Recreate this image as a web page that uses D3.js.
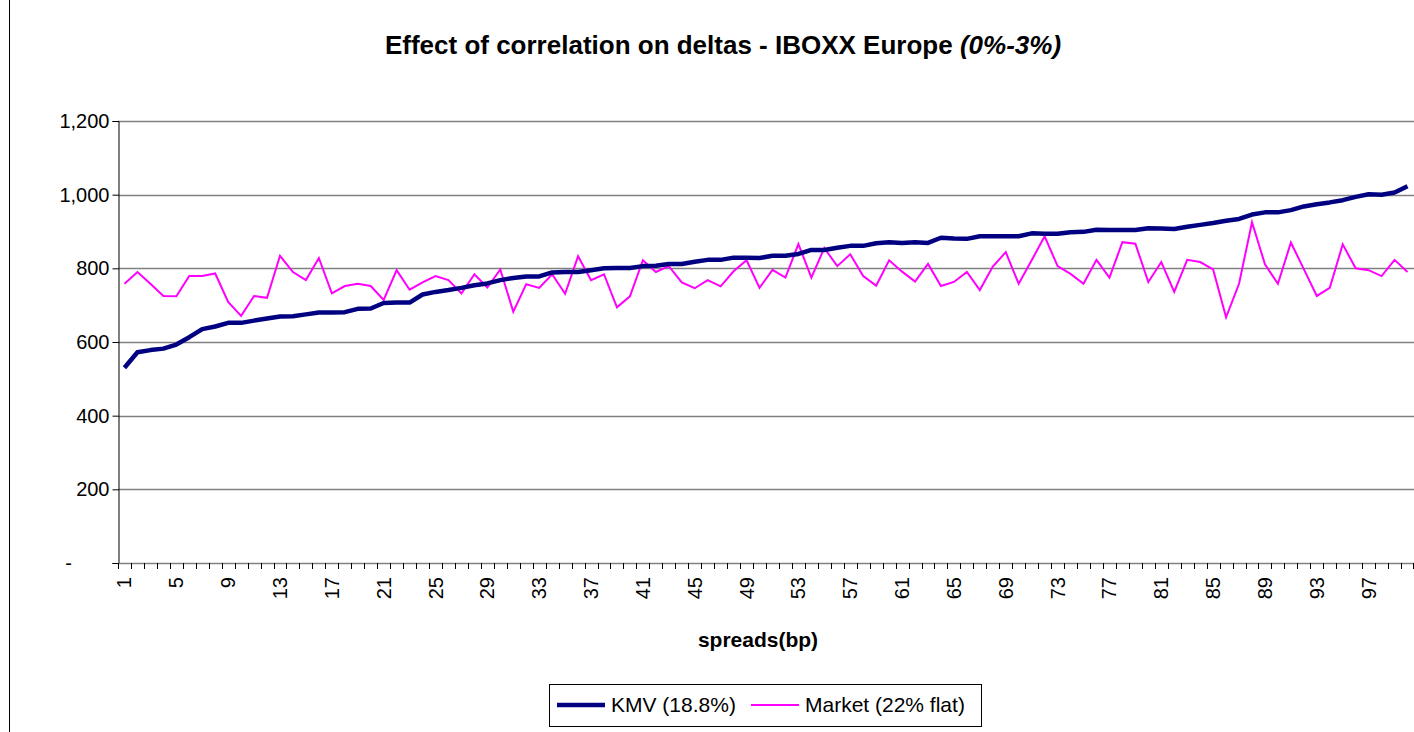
<!DOCTYPE html>
<html>
<head>
<meta charset="utf-8">
<script src="https://cdn.jsdelivr.net/npm/d3@7/dist/d3.min.js"></script>
<style>
  body { margin: 0; background: #fff; }
  svg { display: block; font-family: "Liberation Sans", Arial, sans-serif; }
</style>
</head>
<body>
<svg id="chart" width="1414" height="732"></svg>
<script>
// categories: spreads(bp) bucket index 1..100
const categories = d3.range(1, 101);

// KMV (18.8%) deltas
const kmv = [
  530, 572, 578, 582, 593, 613, 635, 642, 652, 652,
  658, 664, 669, 670, 675, 680, 680, 681, 690, 691,
  706, 707, 707, 729, 736, 741, 747, 754, 759, 768,
  774, 778, 778, 789, 790, 790, 795, 800, 801, 801,
  806, 807, 812, 812, 818, 823, 823, 829, 829, 828,
  834, 834, 839, 850, 850, 856, 861, 861, 868, 871,
  869, 871, 869, 883, 881, 880, 887, 887, 887, 887,
  895, 894, 894, 898, 899, 905, 904, 904, 904, 909,
  908, 907, 913, 918, 923, 929, 934, 946, 952, 952,
  958, 968, 974, 979, 985, 994, 1001, 1000, 1006, 1023
];

// Market (22% flat) deltas
const market = [
  758, 790, 758, 725, 724, 779, 779, 786, 709, 671,
  725, 720, 834, 790, 768, 828, 732, 752, 758, 752,
  714, 795, 742, 762, 779, 768, 732, 784, 748, 797,
  682, 757, 747, 784, 731, 833, 768, 784, 694, 724,
  822, 790, 806, 762, 746, 768, 751, 792, 822, 747,
  796, 775, 866, 775, 855, 806, 838, 779, 753, 822,
  791, 764, 812, 752, 763, 790, 741, 805, 844, 758,
  822, 887, 806, 785, 758, 823, 775, 871, 867, 763,
  817, 736, 823, 817, 797, 667, 758, 925, 811, 758,
  870, 798, 725, 747, 865, 800, 795, 779, 823, 790
];

const yTicks = [0, 200, 400, 600, 800, 1000, 1200];
const xLabels = categories.filter(d => (d - 1) % 4 === 0);

const svg = d3.select('#chart');
const plotLeft = 118, plotRight = 1414, plotTop = 121, plotBottom = 563;

const x = d3.scaleBand().domain(categories).range([plotLeft, plotRight]).padding(0);
const y = d3.scaleLinear().domain([0, 1200]).range([plotBottom, plotTop]);
const cx = d => x(d) + x.bandwidth() / 2;

// outer chart border (left edge only is visible)
svg.append('line')
    .attr('x1', 9.5).attr('x2', 9.5).attr('y1', 0).attr('y2', 732)
    .attr('stroke', '#000').attr('stroke-width', 1);

// title
const title = svg.append('text')
    .attr('x', 723).attr('y', 54)
    .attr('text-anchor', 'middle')
    .attr('font-size', 26).attr('font-weight', 'bold');
title.append('tspan').text('Effect of correlation on deltas - IBOXX Europe ');
title.append('tspan').attr('font-style', 'italic').text('(0%-3%)');

// gridlines
svg.append('g').selectAll('line')
    .data(yTicks.filter(d => d > 0))
    .join('line')
    .attr('x1', plotLeft).attr('x2', plotRight)
    .attr('y1', d => Math.round(y(d)) + 0.5).attr('y2', d => Math.round(y(d)) + 0.5)
    .attr('stroke', '#808080').attr('stroke-width', 1.5);

// y axis
const yAxis = svg.append('g')
    .attr('transform', `translate(${plotLeft + 0.5},0)`)
    .call(d3.axisLeft(y).tickValues(yTicks).tickSize(6).tickPadding(3)
        .tickFormat(d => d === 0 ? '-' : d3.format(',')(d)));
yAxis.select('.domain').attr('stroke', '#000');
yAxis.selectAll('text').attr('font-size', 20).attr('fill', '#000')
    .attr('font-family', '"Liberation Sans", Arial, sans-serif');
yAxis.selectAll('.tick').filter(d => d === 0).select('text')
    .attr('text-anchor', 'middle').attr('x', -50);

// x axis line + boundary ticks
svg.append('line')
    .attr('x1', plotLeft).attr('x2', plotRight)
    .attr('y1', plotBottom + 0.5).attr('y2', plotBottom + 0.5)
    .attr('stroke', '#808080').attr('stroke-width', 1.5);
svg.append('g').selectAll('line')
    .data(categories.concat(['end']))
    .join('line')
    .attr('x1', d => d === 'end' ? plotRight - 0.5 : Math.round(x(d)) + 0.5)
    .attr('x2', d => d === 'end' ? plotRight - 0.5 : Math.round(x(d)) + 0.5)
    .attr('y1', plotBottom).attr('y2', plotBottom + 6)
    .attr('stroke', '#000');

// x labels (rotated)
svg.append('g').selectAll('text')
    .data(xLabels)
    .join('text')
    .attr('transform', d => `translate(${cx(d)},${plotBottom + 14}) rotate(-90)`)
    .attr('text-anchor', 'end')
    .attr('dy', '0.35em')
    .attr('font-size', 20)
    .text(d => d);

// x axis title
svg.append('text')
    .attr('x', 758).attr('y', 647)
    .attr('text-anchor', 'middle')
    .attr('font-size', 21).attr('font-weight', 'bold')
    .text('spreads(bp)');

// series
const line = d3.line().x((d, i) => cx(categories[i])).y(d => y(d));

svg.append('path').datum(market)
    .attr('d', line)
    .attr('fill', 'none').attr('stroke', '#FF00FF').attr('stroke-width', 2)
    .attr('stroke-linejoin', 'miter');

svg.append('path').datum(kmv)
    .attr('d', line)
    .attr('fill', 'none').attr('stroke', '#000080').attr('stroke-width', 4.5)
    .attr('stroke-linejoin', 'round');

// legend
const legend = svg.append('g');
legend.append('rect')
    .attr('x', 549.5).attr('y', 684.5).attr('width', 432).attr('height', 42)
    .attr('fill', '#fff').attr('stroke', '#000');
const items = [
  { name: 'KMV (18.8%)', color: '#000080', width: 4.5, x: 557 },
  { name: 'Market (22% flat)', color: '#FF00FF', width: 2, x: 751 }
];
items.forEach(it => {
  legend.append('line')
      .attr('x1', it.x).attr('x2', it.x + 48).attr('y1', 705).attr('y2', 705)
      .attr('stroke', it.color).attr('stroke-width', it.width);
  legend.append('text')
      .attr('x', it.x + 54).attr('y', 712)
      .attr('font-size', 21)
      .text(it.name);
});
</script>
</body>
</html>
